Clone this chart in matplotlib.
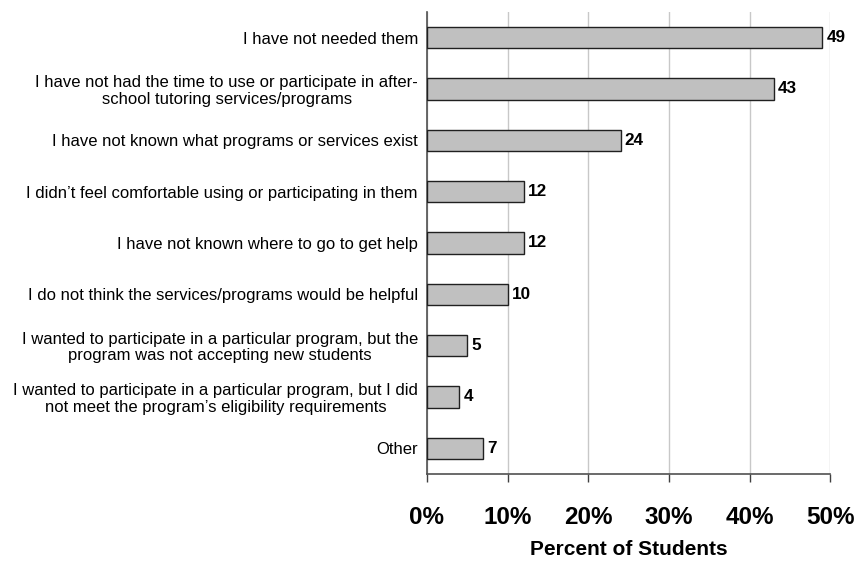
import matplotlib
matplotlib.use('Agg')
import matplotlib.pyplot as plt
import matplotlib.ticker as mticker

plt.rcParams['font.family'] = ['Liberation Sans', 'DejaVu Sans']

#%% Data
reasons = [
    'I have not needed them',
    'I have not had the time to use or participate in after-\nschool tutoring services/programs',
    'I have not known what programs or services exist',
    'I didn\u2019t feel comfortable using or participating in them',
    'I have not known where to go to get help',
    'I do not think the services/programs would be helpful',
    'I wanted to participate in a particular program, but the\nprogram was not accepting new students',
    'I wanted to participate in a particular program, but I did\nnot meet the program\u2019s eligibility requirements',
    'Other',
]
pct = [49, 43, 24, 12, 12, 10, 5, 4, 7]
xticks = [0, 10, 20, 30, 40, 50]

#%% Plot
f = plt.figure(figsize=(8.56, 5.63), dpi=100)
ax = f.add_axes([0.4988, 0.1581, 0.4714, 0.8206])

ypos = list(range(len(reasons)))
ax.barh(ypos, pct, height=0.41, color='#c0c0c0', edgecolor='#202020', lw=1, zorder=3)
for y, v in zip(ypos, pct):
    ax.text(v + 0.5, y, str(v), va='center', ha='left', fontsize=12.3,
            fontweight='bold', zorder=4)

ax.set_ylim(len(reasons) - 0.5, -0.5)
ax.set_yticks(ypos)
ax.set_yticklabels(reasons, fontsize=12, linespacing=1.1, multialignment='center')
ax.tick_params(axis='y', length=0, pad=6.5)

ax.set_xlim(0, 50)
ax.set_xticks(xticks)
ax.xaxis.set_major_formatter(mticker.FuncFormatter(lambda v, p: '{:.0f}%'.format(v)))
for lbl in ax.get_xticklabels():
    lbl.set_fontweight('bold')
ax.tick_params(axis='x', length=6, width=1, color='#404040', labelsize=17.5, pad=17)
ax.set_xlabel('Percent of Students', fontsize=15, fontweight='bold', labelpad=8)

ax.grid(axis='x', color='#c8c8c8', lw=1, zorder=0)
ax.spines['top'].set_visible(False)
ax.spines['right'].set_visible(False)
for s in ['left', 'bottom']:
    ax.spines[s].set_color('#505050')
    ax.spines[s].set_linewidth(1.2)

f.savefig('out.png', dpi=100)
